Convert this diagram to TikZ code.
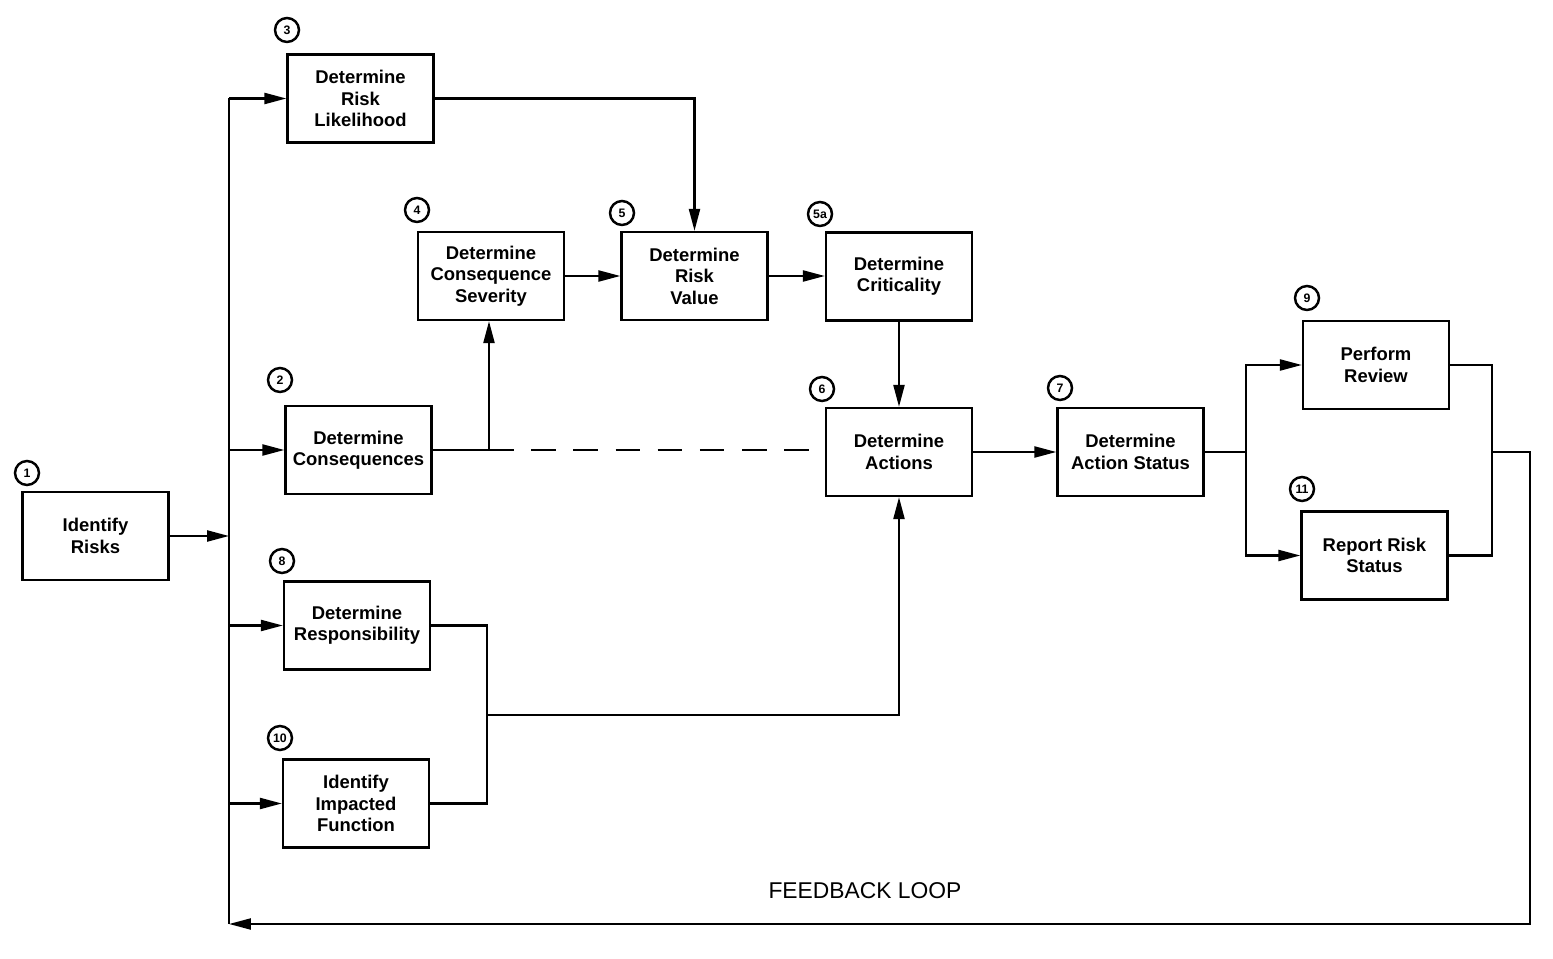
\documentclass[tikz,border=0pt]{standalone}
\usepackage{fontspec}
\setmainfont{Liberation Sans}
\usetikzlibrary{arrows.meta}
\begin{document}
\begin{tikzpicture}[x=0.02cm,y=-0.02cm,
  line width=1.3pt,
  box/.style={draw,rectangle,minimum width=2.92cm,minimum height=1.76cm,align=center,
    font=\fontsize{10.5}{12.2}\selectfont\bfseries,inner sep=1pt},
  num/.style={draw,circle,minimum size=0.48cm,inner sep=0pt,line width=1.4pt,
    font=\fontsize{7}{7}\selectfont\bfseries},
  arr/.style={-{Triangle[length=0.44cm,width=0.22cm]}}]
\useasboundingbox (0,0) rectangle (1553,959);
% boxes
\node[box] (b1) at (95.5,536) {Identify\\Risks};
\node[box] (b3) at (360.5,98.5) {Determine\\Risk\\Likelihood};
\node[box] (b4) at (491,276) {Determine\\Consequence\\Severity};
\node[box] (b5) at (694.5,276) {Determine\\Risk\\Value};
\node[box] (b5a) at (899,276.5) {Determine\\Criticality};
\node[box] (b2) at (358.5,450) {Determine\\Consequences};
\node[box] (b6) at (899,452) {Determine\\Actions};
\node[box] (b7) at (1130.5,452) {Determine\\Action Status};
\node[box] (b9) at (1376,365) {Perform\\Review};
\node[box] (b11) at (1374.5,555.5) {Report Risk\\Status};
\node[box] (b8) at (357,625.5) {Determine\\Responsibility};
\node[box] (b10) at (356,803.5) {Identify\\Impacted\\Function};
% numbers
\node[num] (c1) at (27,473) {1};
\node[num] (c3) at (287,30) {3};
\node[num] (c4) at (417,210) {4};
\node[num] (c5) at (622,213) {5};
\node[num] (c5a) at (820,214) {5a};
\node[num] (c2) at (280,380) {2};
\node[num] (c6) at (822,389) {6};
\node[num] (c7) at (1060,388) {7};
\node[num] (c9) at (1307,298) {9};
\node[num] (c11) at (1302,489) {11};
\node[num] (c8) at (282,561) {8};
\node[num] (c10) at (280,738) {10};
% coordinates
\coordinate (tx) at (229,0);
\coordinate (tb) at (229,924);
\coordinate (s7) at (1246,452);
\coordinate (jr) at (1492,452);
\coordinate (fr) at (1530,452);
\coordinate (j8) at (487,715);
\coordinate (j2) at (489,450);
% trunk
\draw (b3.west -| tx) -- (tb);
\draw[arr] (b1.east) -- (b1.east -| tx);
\draw[arr] (b3.west -| tx) -- (b3.west);
\draw[arr] (b2.west -| tx) -- (b2.west);
\draw[arr] (b8.west -| tx) -- (b8.west);
\draw[arr] (b10.west -| tx) -- (b10.west);
% upper flow
\draw[arr] (b3.east) -| (b5.north);
\draw[arr] (b4.east) -- (b5.west);
\draw[arr] (b5.east) -- (b5.east -| b5a.west);
\draw[arr] (b2.east) -- (j2) -- (j2 |- b4.south);
\draw[dashed,dash pattern=on 14pt off 10pt] (j2) -- (b6.west |- j2);
\draw[arr] (b5a.south) -- (b6.north);
\draw[arr] (b6.east) -- (b7.west);
% split to 9 and 11
\draw (b7.east) -- (s7);
\draw[arr] (s7) |- (b9.west);
\draw[arr] (s7) |- (b11.west);
% join of 9 and 11
\draw (b9.east) -| (jr) |- (b11.east);
\draw[arr] (jr) -- (fr) -- (fr |- tb) -- (tb);
% join of 8 and 10
\draw (b8.east) -| (j8) |- (b10.east);
\draw[arr] (j8) -| (b6.south);
% label
\node[font=\fontsize{13}{13}\selectfont] (fb) at (865,891) {FEEDBACK LOOP};
\end{tikzpicture}
\end{document}
